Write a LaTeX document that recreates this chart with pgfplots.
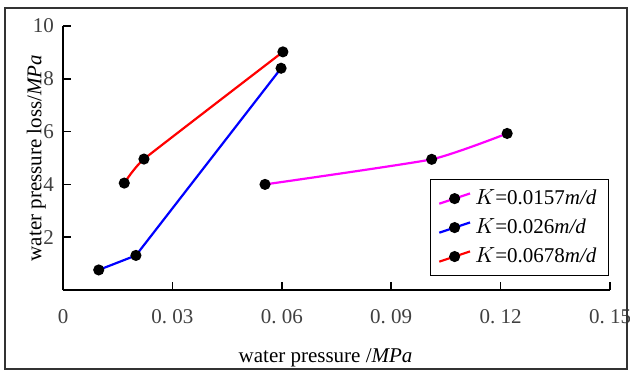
\documentclass[border=0pt]{standalone}
\usepackage{fontspec}
\setmainfont{Liberation Serif}
\usepackage{pgfplots}
\pgfplotsset{compat=1.18}
\definecolor{mymag}{RGB}{255,0,255}
\definecolor{myblue}{RGB}{0,0,255}
\definecolor{myred}{RGB}{255,0,0}
\begin{document}
\begin{tikzpicture}
\begin{axis}[
  scale only axis,
  width=273.5pt, height=132pt,
  xmin=0, xmax=0.15, ymin=0, ymax=10,
  axis x line=bottom, axis y line=left,
  axis line style={-, line width=0.8pt, black},
  xtick={0,0.03,0.06,0.09,0.12,0.15},
  xticklabels={0,{0.\ 03},{0.\ 06},{0.\ 09},{0.\ 12},{0.\ 15}},
  ytick={2,4,6,8,10},
  tick align=inside,
  major tick length=4pt,
  tick style={line width=0.8pt, black},
  /pgf/number format/assume math mode=true,
  ticklabel style={font=\fontsize{10.5}{12}\selectfont, text=black!75},
  xticklabel style={yshift=-6pt},
  yticklabel style={xshift=-1pt},
  xlabel={water pressure /\textit{MPa}},
  ylabel={water pressure loss/\textit{MPa}},
  label style={font=\fontsize{10.5}{12}\selectfont},
  xlabel style={at={(rel axis cs:0.48,0)}, anchor=north, yshift=-26pt},
  ylabel style={at={(rel axis cs:0,0.5)}, yshift=5pt},
  clip=false,
  legend style={at={(rel axis cs:0.998,0.42)}, anchor=north east,
    draw=black, line width=0.5pt, font=\fontsize{10.5}{12}\selectfont,
    row sep=1.5pt, inner xsep=4pt, inner ysep=3pt},
  legend cell align=left,
  legend image code/.code={
    \draw[#1, mark=none] (0cm,-0.09cm) -- (0.54cm,0.09cm);
    \fill[black] (0.27cm,0cm) circle (2.2pt);
  },
]
\addplot[mymag, line width=1.1pt, smooth, tension=0.3, mark=*, mark size=2.2pt, mark options={fill=black, draw=black, solid}] coordinates {(0.0554,4.0) (0.1011,4.95) (0.1218,5.93)};
\addlegendentry{$K$=0.0157\textit{m/d}}
\addplot[myblue, line width=1.1pt, mark=*, mark size=2.2pt, mark options={fill=black, draw=black, solid}] coordinates {(0.0098,0.76) (0.0200,1.31) (0.0598,8.40)};
\addlegendentry{$K$=0.026\textit{m/d}}
\addplot[myred, line width=1.1pt, smooth, tension=0.2, mark=*, mark size=2.2pt, mark options={fill=black, draw=black, solid}] coordinates {(0.0168,4.05) (0.0222,4.96) (0.0603,9.02)};
\addlegendentry{$K$=0.0678\textit{m/d}}
\end{axis}
\pgfresetboundingbox
\useasboundingbox (-31.5pt,-40.5pt) rectangle (283.5pt,145pt);
\draw[line width=1pt, black!80] (-29pt,-39.5pt) rectangle (282pt,141pt);
\end{tikzpicture}
\end{document}
